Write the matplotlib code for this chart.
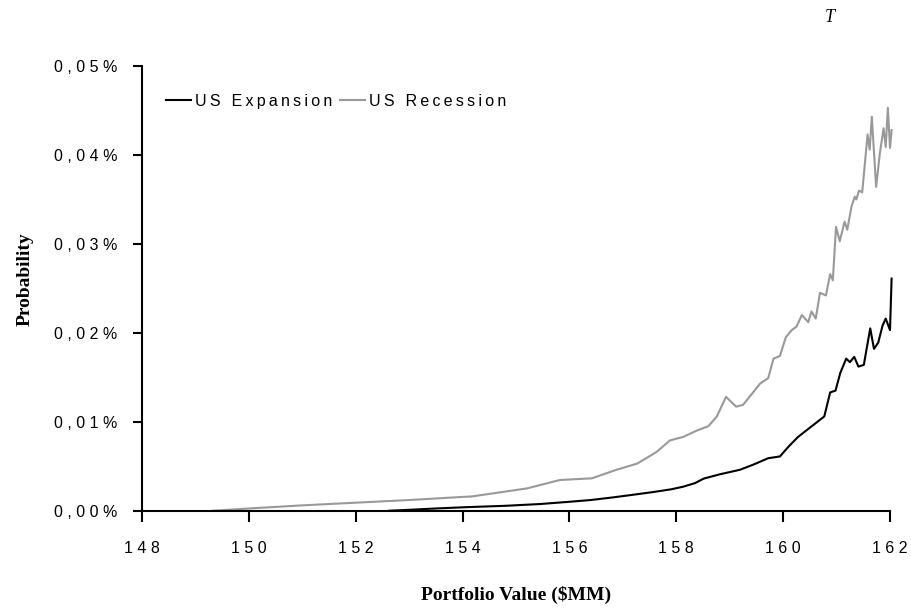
import matplotlib
matplotlib.use("Agg")
import matplotlib.pyplot as plt
from matplotlib.ticker import FixedLocator, FixedFormatter

# ---- data ----
exp_x = [152.63, 153.0, 153.5, 154.08, 154.8, 155.45, 155.95, 156.4, 156.82, 157.2,
         157.57, 157.9, 158.13, 158.35, 158.51, 158.57, 158.82, 159.19, 159.45, 159.72,
         159.94, 160.1, 160.28, 160.45, 160.60, 160.77, 160.88, 160.98, 161.07, 161.18,
         161.25, 161.33, 161.41, 161.51, 161.63, 161.70, 161.78, 161.86, 161.92, 162.0,
         162.03]
exp_y = [0.0, 0.0001, 0.00025, 0.0004, 0.00055, 0.00075, 0.00098, 0.0012, 0.0015, 0.0018,
         0.0021, 0.0024, 0.0027, 0.0031, 0.0036, 0.0037, 0.0041, 0.0046, 0.0052, 0.0059,
         0.0061, 0.0072, 0.0083, 0.0091, 0.0098, 0.0106, 0.0133, 0.0135, 0.0155, 0.0171,
         0.0167, 0.0173, 0.0162, 0.0164, 0.0205, 0.0182, 0.0189, 0.0208, 0.0216, 0.0203,
         0.0261]

rec_x = [149.33, 150.0, 151.0, 152.0, 153.0, 154.0, 154.17, 155.20, 155.82, 156.42,
         156.88, 157.27, 157.63, 157.88, 158.13, 158.38, 158.60, 158.76, 158.93, 159.12,
         159.25, 159.57, 159.72, 159.82, 159.94, 160.05, 160.16, 160.25, 160.35, 160.47,
         160.53, 160.61, 160.69, 160.80, 160.88, 160.93, 160.99, 161.06, 161.15, 161.20,
         161.28, 161.34, 161.37, 161.42, 161.48, 161.58, 161.62, 161.66, 161.74, 161.81,
         161.88, 161.92, 161.96, 162.0, 162.03]
rec_y = [0.0, 0.00025, 0.0006, 0.0009, 0.0012, 0.00155, 0.0016, 0.0025, 0.00345, 0.00364,
         0.0046, 0.0053, 0.0066, 0.0079, 0.0083, 0.0090, 0.0095, 0.0106, 0.0128, 0.0117,
         0.0119, 0.0143, 0.0149, 0.0171, 0.0174, 0.0195, 0.0203, 0.0207, 0.0220, 0.0212,
         0.0224, 0.0216, 0.0245, 0.0242, 0.0266, 0.0259, 0.0319, 0.0303, 0.0325, 0.0316,
         0.0342, 0.0353, 0.0350, 0.0360, 0.0358, 0.0423, 0.0406, 0.0443, 0.0364, 0.0402,
         0.0430, 0.0409, 0.0453, 0.0408, 0.0428]

series_names = ["US Expansion", "US Recession"]
x_ticks = [148, 150, 152, 154, 156, 158, 160, 162]
x_tick_labels = ["148", "150", "152", "154", "156", "158", "160", "162"]
y_ticks = [0.0, 0.01, 0.02, 0.03, 0.04, 0.05]
y_tick_labels = ["0,00%", "0,01%", "0,02%", "0,03%", "0,04%", "0,05%"]


def spaced(s, sep=" "):
    return sep.join(s)


sans = "Liberation Sans"
serif = "Liberation Serif"

fig = plt.figure(figsize=(9.11, 6.09), dpi=100)
ax = fig.add_axes([142 / 911, 98.3 / 609, 748 / 911, 444.7 / 609])

ax.plot(exp_x, exp_y, color="black", lw=1.5, label=series_names[0], clip_on=False, zorder=3)
ax.plot(rec_x, rec_y, color="#999999", lw=1.5, label=series_names[1], clip_on=False, zorder=2)

ax.set_xlim(148, 162)
ax.set_ylim(0, 0.05)
for s in ["top", "right"]:
    ax.spines[s].set_visible(False)
for s in ["left", "bottom"]:
    ax.spines[s].set_linewidth(1.5)

ax.xaxis.set_major_locator(FixedLocator(x_ticks))
ax.xaxis.set_major_formatter(FixedFormatter([spaced(t) for t in x_tick_labels]))
ax.yaxis.set_major_locator(FixedLocator(y_ticks))
ax.yaxis.set_major_formatter(FixedFormatter([spaced(t) for t in y_tick_labels]))
ax.tick_params(axis="x", direction="out", length=8, width=1.5, pad=14, labelsize=11.5)
ax.tick_params(axis="y", direction="out", length=6.5, width=1.5, pad=11, labelsize=11.5)
for lab in ax.get_xticklabels() + ax.get_yticklabels():
    lab.set_fontfamily(sans)

ax.set_xlabel("Portfolio Value ($MM)", fontfamily=serif, fontweight="bold", fontsize=14)
ax.xaxis.set_label_coords(0.5, -0.19)
ax.xaxis.label.set_verticalalignment("center")
ax.set_ylabel("Probability", fontfamily=serif, fontweight="bold", fontsize=14)
ax.yaxis.set_label_coords(-0.156, 0.52)
ax.yaxis.label.set_verticalalignment("center")

leg = ax.legend(loc="center left", bbox_to_anchor=(0.032, 0.92), ncol=2, frameon=False,
                handlelength=1.6, handletextpad=0.2, columnspacing=0.5,
                borderpad=0, borderaxespad=0,
                prop={"family": [sans, "DejaVu Sans"], "size": 11.5})
for t, name in zip(leg.get_texts(), series_names):
    t.set_text(spaced(name, "\u2009"))

fig.text(830 / 911, 1 - 17 / 609, "T", fontfamily=serif, fontstyle="italic", fontsize=13,
         ha="center", va="center")

fig.savefig("out.png", dpi=100)
